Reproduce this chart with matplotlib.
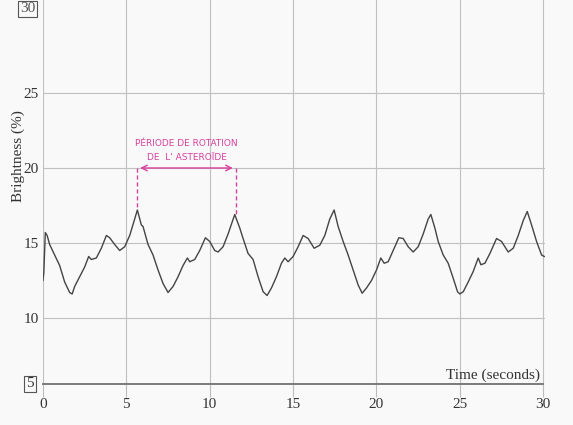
import matplotlib
matplotlib.use("Agg")
import matplotlib.pyplot as plt

# Light-curve data (time in s, brightness in %)
time_s = [0.0, 0.05, 0.14, 0.25, 0.4, 0.7, 1.0, 1.3, 1.6, 1.75, 1.9, 2.2, 2.5, 2.74, 2.9, 3.2, 3.5, 3.8, 4.0, 4.3, 4.6, 4.9, 5.2, 5.5, 5.66,
          5.9, 6.0, 6.3, 6.6, 6.9, 7.2, 7.5, 7.8, 8.1, 8.4, 8.66, 8.8, 9.1, 9.4, 9.74, 10.0, 10.3, 10.5, 10.8, 11.1, 11.5,
          11.8, 12.0, 12.3, 12.6, 12.9, 13.2, 13.44, 13.7, 14.0, 14.3, 14.5, 14.7, 15.0, 15.3, 15.6, 15.9, 16.26, 16.6, 16.9, 17.2, 17.46,
          17.7, 18.0, 18.3, 18.6, 18.9, 19.14, 19.4, 19.7, 20.0, 20.26, 20.46, 20.7, 21.0, 21.34, 21.6, 21.9, 22.2, 22.5, 22.8, 23.1, 23.26,
          23.5, 23.7, 24.0, 24.3, 24.6, 24.86, 25.0, 25.2, 25.5, 25.8, 26.1, 26.26, 26.5, 26.8, 27.2, 27.5, 27.9, 28.2, 28.5, 28.8, 29.04,
          29.3, 29.6, 29.9, 30.06]
brightness = [12.5, 13.0, 15.7, 15.5, 14.9, 14.2, 13.5, 12.4, 11.7, 11.6, 12.1, 12.75, 13.4, 14.1, 13.9, 14.0, 14.65, 15.5, 15.35, 14.9, 14.5, 14.75, 15.5, 16.6, 17.2,
              16.2, 16.1, 14.9, 14.2, 13.2, 12.3, 11.7, 12.1, 12.75, 13.5, 14.0, 13.75, 13.9, 14.5, 15.35, 15.1, 14.5, 14.4, 14.75, 15.6, 16.9,
              16.0, 15.3, 14.3, 13.9, 12.75, 11.75, 11.5, 12.0, 12.75, 13.65, 14.0, 13.75, 14.1, 14.75, 15.5, 15.3, 14.65, 14.85, 15.5, 16.6, 17.2,
              16.1, 15.1, 14.2, 13.2, 12.2, 11.65, 12.0, 12.5, 13.2, 14.0, 13.65, 13.75, 14.5, 15.35, 15.3, 14.75, 14.4, 14.75, 15.6, 16.6, 16.9,
              16.0, 15.1, 14.2, 13.65, 12.65, 11.75, 11.6, 11.75, 12.4, 13.1, 14.0, 13.55, 13.65, 14.3, 15.3, 15.1, 14.4, 14.65, 15.5, 16.5, 17.1,
              16.2, 15.1, 14.2, 14.1]

x_ticks = [0, 5, 10, 15, 20, 25, 30]
y_ticks = [10, 15, 20, 25]
period_start = 5.66
period_end = 11.55
peak_start = 17.2
peak_end = 16.9
arrow_level = 20.0

serif = "Liberation Serif"
magenta = "#d8409f"

fig = plt.figure(figsize=(5.73, 4.25), dpi=100, facecolor="#f9f9f9")
ax = fig.add_axes([0.075, 0.0965, 0.876, 0.9035])
ax.set_facecolor("#f9f9f9")
ax.set_xlim(0, 30.1)
ax.set_ylim(5.6, 31.2)

for s in ["top", "right", "left"]:
    ax.spines[s].set_visible(False)
ax.spines["bottom"].set_color("#707070")
ax.spines["bottom"].set_linewidth(1.3)
ax.spines["bottom"].set_bounds(0, 30)

ax.set_xticks(x_ticks)
ax.set_yticks(y_ticks)
ax.set_xticklabels([str(v) for v in x_ticks], fontfamily=serif, fontsize=11, color="#333333")
ax.set_yticklabels([str(v) for v in y_ticks], fontfamily=serif, fontsize=11, color="#333333")
ax.tick_params(axis="x", length=9, color="#bcbcbc", width=0.8, pad=1)
ax.tick_params(axis="y", length=0, pad=3)
ax.grid(True, color="#c0c0c0", linewidth=0.8)
ax.set_axisbelow(True)

ax.plot(time_s, brightness, color="#444444", linewidth=1.0, zorder=3)

# Boxed axis end labels
box = dict(boxstyle="square,pad=0.12", facecolor="none", edgecolor="#555555", linewidth=0.8)
ax.text(-0.55, 5.6, "5", fontfamily=serif, fontsize=11, ha="right", va="center",
        color="#333333", bbox=box, clip_on=False)
ax.text(-0.45, 30.6, "30", fontfamily=serif, fontsize=11, ha="right", va="center",
        color="#555555", bbox=box, clip_on=False)

ax.text(-1.5, 20.8, "Brightness (%)", fontfamily=serif, fontsize=11, rotation=90,
        ha="center", va="center", color="#333333", clip_on=False)
ax.text(29.8, 5.75, "Time (seconds)", fontfamily=serif, fontsize=11, ha="right", va="bottom",
        color="#333333")

# Magenta annotation
ax.annotate("", xy=(period_start, arrow_level), xytext=(period_end, arrow_level),
            arrowprops=dict(arrowstyle="<->", color=magenta, lw=1.0, mutation_scale=10))
ax.plot([period_start, period_start], [arrow_level, peak_start], color=magenta, lw=1.0,
        linestyle=(0, (3, 2)))
ax.plot([period_end, period_end], [arrow_level, peak_end], color=magenta, lw=1.0,
        linestyle=(0, (3, 2)))
ax.text((period_start + period_end) / 2, 21.6, "PÉRIODE DE ROTATION", fontsize=6.5,
        ha="center", va="center", color=magenta, fontfamily="DejaVu Sans")
ax.text((period_start + period_end) / 2, 20.7, "DE  L' ASTEROÏDE", fontsize=6.5,
        ha="center", va="center", color=magenta, fontfamily="DejaVu Sans")

fig.savefig("out.png", dpi=100, facecolor=fig.get_facecolor())
